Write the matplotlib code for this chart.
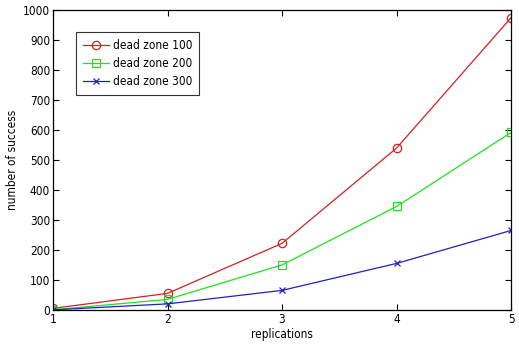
import matplotlib
matplotlib.use('Agg')
import matplotlib.pyplot as plt
import numpy as np

plt.rcParams['font.family'] = ['DejaVu Sans']
plt.rcParams['font.stretch'] = 'condensed'

# data
replications = [1, 2, 3, 4, 5]
dz100 = [5, 55, 222, 540, 975]
dz200 = [0, 35, 150, 345, 592]
dz300 = [0, 20, 65, 155, 265]
labels = ['dead zone 100', 'dead zone 200', 'dead zone 300']

fig = plt.figure(figsize=(5.19, 3.47), dpi=100)
ax = fig.add_axes([0.102, 0.107, 0.883, 0.864])

ax.plot(replications, dz100, '-o', color='#d42020', linewidth=0.9, markersize=6,
        markerfacecolor='none', markeredgewidth=0.9, label=labels[0])
ax.plot(replications, dz200, '-s', color='#20e020', linewidth=0.9, markersize=6,
        markerfacecolor='none', markeredgewidth=0.9, label=labels[1])
ax.plot(replications, dz300, '-x', color='#2020c0', linewidth=0.9, markersize=4,
        markeredgewidth=0.9, label=labels[2])

ax.set_xlim(1, 5)
ax.set_ylim(0, 1000)
ax.set_xticks([1, 2, 3, 4, 5])
ax.set_yticks(np.arange(0, 1001, 100))
ax.tick_params(direction='in', top=True, right=True, labelsize=8.5, length=4, width=0.8, pad=2)
for s in ax.spines.values():
    s.set_linewidth(0.9)

ax.set_xlabel('replications', fontsize=8.5, labelpad=2)
ax.set_ylabel('number of success', fontsize=8.5, labelpad=3)

leg = ax.legend(loc='upper left', bbox_to_anchor=(0.043, 0.94), fontsize=8.5,
                fancybox=False, edgecolor='#333333', framealpha=1,
                handlelength=2.2, handletextpad=0.3, borderpad=0.6, labelspacing=0.45,
                borderaxespad=0.3)
leg.get_frame().set_linewidth(0.8)

plt.savefig('out.png', dpi=100)
